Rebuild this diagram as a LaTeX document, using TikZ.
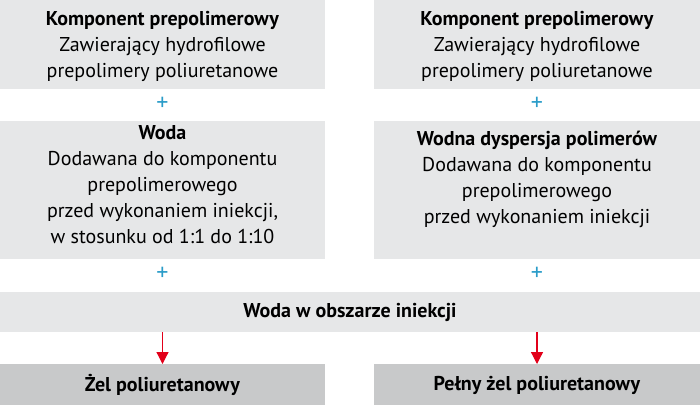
\documentclass[tikz,border=0pt]{standalone}
\usepackage{fontspec}
\setmainfont{PT Sans}
\usetikzlibrary{arrows.meta}
\definecolor{boxlight}{HTML}{E6E7E8}
\definecolor{boxdark}{HTML}{C8C9CA}
\definecolor{plusblue}{HTML}{2A9CC8}
\definecolor{arrred}{HTML}{E2001A}
\begin{document}
\begin{tikzpicture}[x=1pt,y=-1pt,
  panel/.style={fill=#1,draw=none,inner sep=0,outer sep=0},
  txt/.style={inner sep=0,align=center,font=\fontsize{20}{26}\selectfont,text=black},
  plussign/.style={inner sep=0,text=plusblue,font=\fontsize{24}{24}\selectfont},
  arr/.style={draw=arrred,line width=1.2pt,-{Triangle[width=12pt,length=12pt]}}
]
\useasboundingbox (0,0) rectangle (700,405);
% panels
\path[panel=boxlight] (0,0) rectangle (325,89);
\path[panel=boxlight] (374,0) rectangle (700,89);
\path[panel=boxlight] (0,121) rectangle (325,259);
\path[panel=boxlight] (374,121) rectangle (700,259);
\path[panel=boxlight] (0,292) rectangle (700,332);
\path[panel=boxdark] (0,364) rectangle (325,405);
\path[panel=boxdark] (374,364) rectangle (700,405);
% texts
\node[txt] (t1) at (162.5,46) {\textbf{Komponent prepolimerowy}\\Zawierający hydrofilowe\\prepolimery poliuretanowe};
\node[txt] (t2) at (537,46) {\textbf{Komponent prepolimerowy}\\Zawierający hydrofilowe\\prepolimery poliuretanowe};
\node[txt] (w1) at (162.5,185) {\textbf{Woda}\\Dodawana do komponentu\\prepolimerowego\\przed wykonaniem iniekcji,\\w stosunku od 1:1 do 1:10};
\node[txt] (w2) at (537,179) {\textbf{Wodna dyspersja polimerów}\\Dodawana do komponentu\\prepolimerowego\\przed wykonaniem iniekcji};
\node[txt] (mid) at (350,312) {\textbf{Woda w obszarze iniekcji}};
\node[txt] (r1) at (162.5,385) {\textbf{Żel poliuretanowy}};
\node[txt] (r2) at (537,385) {\textbf{Pełny żel poliuretanowy}};
% plus signs
\node[plussign] (p1) at (162.5,104) {+};
\node[plussign] (p2) at (537,104) {+};
\node[plussign] (p3) at (162.5,274) {+};
\node[plussign] (p4) at (537,274) {+};
% arrows
\coordinate (a1s) at (162.5,332);
\coordinate (a1e) at (162.5,364);
\coordinate (a2s) at (537,332);
\coordinate (a2e) at (537,364);
\draw[arr] (a1s) -- (a1e);
\draw[arr] (a2s) -- (a2e);
\end{tikzpicture}
\end{document}
